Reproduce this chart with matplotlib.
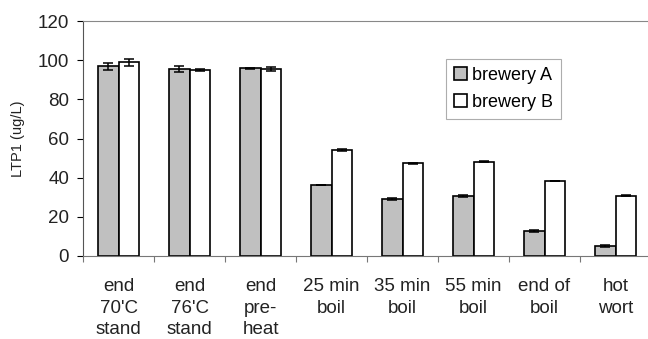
import matplotlib.pyplot as plt
import numpy as np

plt.rcParams['font.family'] = ['Liberation Sans', 'DejaVu Sans']

stages = ["end\n70'C\nstand", "end\n76'C\nstand", "end\npre-\nheat", "25 min\nboil",
          "35 min\nboil", "55 min\nboil", "end of\nboil", "hot\nwort"]
brewery_a = [97.0, 95.5, 95.8, 36.3, 29.0, 30.6, 12.8, 5.0]
brewery_b = [99.0, 95.0, 95.5, 54.0, 47.3, 48.2, 38.3, 30.8]
err_a = [1.8, 1.6, 0.3, 0.0, 0.6, 0.4, 0.6, 0.4]
err_b = [1.8, 0.6, 1.2, 0.4, 0.4, 0.4, 0.0, 0.4]

fig = plt.figure(figsize=(6.48, 3.39), dpi=100)
ax = fig.add_axes([83 / 648, 1 - 256 / 339, 568 / 648, 235 / 339])

x = np.arange(len(stages))
w = 0.29
ax.bar(x - w / 2, brewery_a, w, color='#c0c0c0', edgecolor='black', linewidth=1.2,
       label='brewery A', yerr=err_a, capsize=3.5, error_kw=dict(elinewidth=1.1, capthick=1.1))
ax.bar(x + w / 2, brewery_b, w, color='white', edgecolor='black', linewidth=1.2,
       label='brewery B', yerr=err_b, capsize=3.5, error_kw=dict(elinewidth=1.1, capthick=1.1))

ax.set_xlim(-0.5, len(stages) - 0.5)
ax.set_ylim(0, 120)
ax.set_yticks(range(0, 121, 20))
ax.tick_params(axis='y', labelsize=13.5, length=4, width=0.8, pad=6, labelcolor='#222222')

ax.set_xticks(x)
ax.set_xticklabels(stages, fontsize=13.5, linespacing=1.35, color='#222222')
ax.tick_params(axis='x', length=0, pad=16)
ax.set_xticks(np.arange(-0.5, len(stages)), minor=True)
ax.tick_params(axis='x', which='minor', length=4, width=0.8, color='#777777')

ax.set_ylabel('LTP1 (ug/L)', fontsize=10.5, color='#222222')
ax.yaxis.set_label_coords(-58 / 568, 0.5)

ax.spines['top'].set_color('#888888')
ax.spines['right'].set_visible(False)
ax.spines['left'].set_color('#555555')
ax.spines['bottom'].set_color('#777777')

leg = ax.legend(loc='upper left', bbox_to_anchor=((446 - 83) / 568, (256 - 59) / 235),
                fontsize=13, frameon=True, fancybox=False, edgecolor='#999999',
                handlelength=0.7, handleheight=0.7, handletextpad=0.3,
                borderpad=0.45, labelspacing=0.55, borderaxespad=0)
leg.get_frame().set_linewidth(0.8)

fig.savefig('out.png', dpi=100)
